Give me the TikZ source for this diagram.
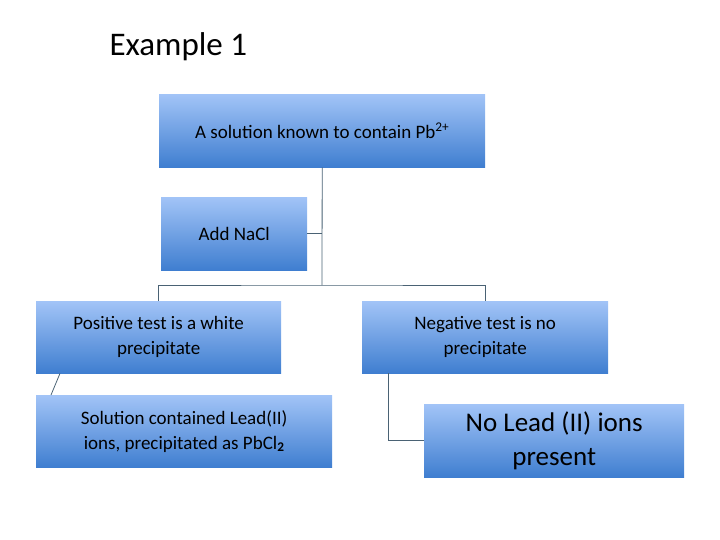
\documentclass[tikz,border=0pt]{standalone}
\usepackage{fontspec}
\setmainfont{Carlito}
\definecolor{btop}{HTML}{A2C4F7}
\definecolor{bbot}{HTML}{3F7ED0}
\definecolor{lnc}{HTML}{4A6274}
\begin{document}
\begin{tikzpicture}[x=1pt,y=-1pt,
  bx/.style={top color=btop,bottom color=bbot,draw=none,inner sep=0pt,anchor=north west,align=center,font=\fontsize{19}{25}\selectfont},
  ln/.style={draw=lnc,line width=0.8pt}]
\useasboundingbox (0,0) rectangle (720,540);
\node[anchor=west,font=\fontsize{33}{36}\selectfont] (title) at (106,47) {Example 1};
\node[bx,minimum width=326pt,minimum height=73pt] (top) at (159,94) {A solution known to contain Pb\textsuperscript{2+}};
\node[bx,minimum width=146pt,minimum height=73pt] (add) at (161,197) {Add NaCl};
\node[bx,minimum width=245pt,minimum height=72pt] (pos) at (36,301) {Positive test is a white\\precipitate};
\node[bx,minimum width=246pt,minimum height=72pt] (neg) at (362,301) {Negative test is no\\precipitate};
\node[bx,minimum width=296pt,minimum height=72pt] (sol) at (36,395) {Solution contained Lead(II)\\ions, precipitated as PbCl\textsubscript{\textbf{2}}};
\node[bx,minimum width=260pt,minimum height=73pt,font=\fontsize{27}{34}\selectfont] (no) at (424,404) {No Lead (II) ions\\present};
\coordinate (j) at (322,285);
\draw[ln] (top.south) -- (j);
\draw[ln] (add.east) -- (add.east -| j);
\draw[ln] (pos.north) |- (j) -| (neg.north);
\draw[ln] ([xshift=24pt]pos.south west) -- ([xshift=15pt]sol.north west);
\draw[ln] ([xshift=26pt]neg.south west) |- (no.west);
\end{tikzpicture}
\end{document}
